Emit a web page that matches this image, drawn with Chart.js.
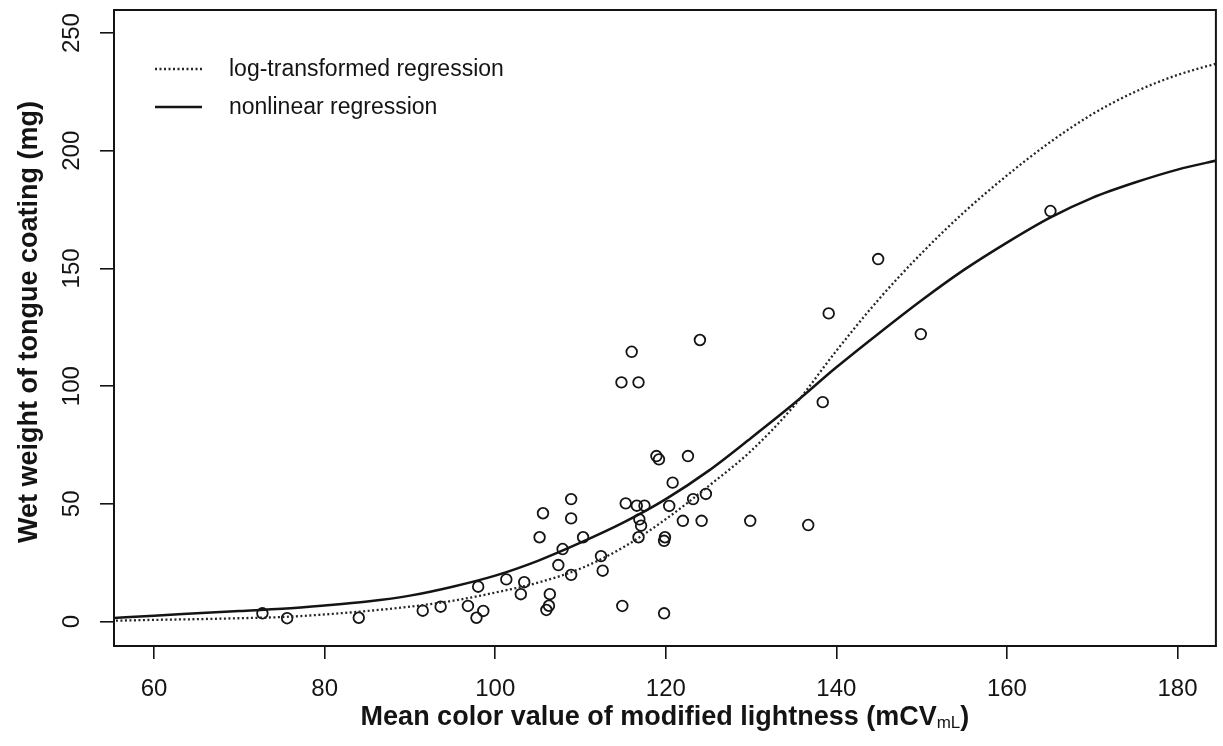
<!DOCTYPE html>
<html>
<head>
<meta charset="utf-8">
<script src="https://cdn.jsdelivr.net/npm/chart.js@4.4.1/dist/chart.umd.min.js"></script>
<style>
  html, body { margin: 0; padding: 0; background: #fff; }
  #wrap { width: 1223px; height: 746px; }
</style>
</head>
<body>
<div id="wrap"><canvas id="chart" width="1223" height="746"></canvas></div>
<script>
// observed samples (mCV_mL, wet weight mg)
const obsX = [72.7, 75.6, 84.0, 91.5, 93.6, 96.8, 97.8, 98.6, 98.0, 101.3,
              103.4, 103.0, 105.2, 105.6, 106.4, 106.3, 106.0, 107.4, 107.9, 108.9,
              108.9, 108.9, 110.3, 112.4, 112.6, 114.8, 116.0, 116.8, 114.9, 115.3,
              116.6, 117.5, 116.9, 117.1, 116.8, 118.9, 119.2, 119.8, 119.9, 119.8,
              120.8, 120.4, 122.0, 122.6, 123.2, 124.2, 124.7, 124.0, 129.9, 136.7,
              138.4, 139.1, 144.9, 149.9, 165.1];
const obsY = [3.5, 1.4, 1.6, 4.6, 6.3, 6.6, 1.6, 4.5, 14.8, 17.9,
              16.7, 11.6, 35.8, 46.0, 11.6, 6.7, 4.9, 24.0, 30.8, 52.0,
              43.8, 19.8, 35.8, 27.8, 21.6, 101.6, 114.6, 101.6, 6.6, 50.2,
              49.2, 49.2, 43.4, 40.7, 35.8, 70.3, 68.9, 34.3, 35.8, 3.5,
              59.0, 49.1, 42.8, 70.3, 52.0, 42.8, 54.2, 119.6, 42.8, 41.0,
              93.2, 130.9, 154.0, 122.1, 174.4];

// fitted curves, every 5 units
const curveX = [55, 60, 65, 70, 75, 80, 85, 90, 95, 100, 105, 110, 115, 120,
                125, 130, 135, 140, 145, 150, 155, 160, 165, 170, 175, 180, 185];
const nonlinearY = [1.4, 2.5, 3.5, 4.5, 5.4, 6.8, 8.5, 11.0, 14.8, 19.5, 25.8, 33.5, 42.0, 52.0,
                    64.0, 78.0, 92.5, 108.0, 122.5, 136.5, 149.5, 161.0, 171.5, 180.0, 186.5, 192.0, 196.2];
const logY = [0.3, 0.7, 1.0, 1.4, 1.9, 3.0, 4.5, 6.3, 8.8, 12.3, 16.5, 22.5, 31.5, 43.5,
              57.5, 72.5, 91.5, 115.0, 137.0, 156.5, 174.0, 189.5, 203.5, 215.5, 225.0, 232.2, 237.5];

const xTicks = [60, 80, 100, 120, 140, 160, 180];
const yTicks = [0, 50, 100, 150, 200, 250];

const FONT = '"Liberation Sans", Arial, Helvetica, sans-serif';
const INK = "#141414";

const toPoints = (xs, ys) => xs.map((x, i) => ({ x: x, y: ys[i] }));

// box, rotated y labels, titles and the legend (R base-graphics look)
const rDecor = {
    id: "rDecor",
    afterDraw(chart) {
        const { ctx, chartArea: a, scales } = chart;
        ctx.save();

        ctx.strokeStyle = INK;
        ctx.lineWidth = 2;
        ctx.strokeRect(a.left, a.top, a.right - a.left, a.bottom - a.top);

        ctx.fillStyle = INK;
        ctx.font = "24px " + FONT;
        ctx.textAlign = "center";
        ctx.textBaseline = "middle";
        scales.y.ticks.forEach(t => {
            const py = scales.y.getPixelForValue(t.value);
            ctx.save();
            ctx.translate(72, py);
            ctx.rotate(-Math.PI / 2);
            ctx.fillText(String(t.value), 0, 0);
            ctx.restore();
        });

        // y title
        ctx.save();
        ctx.font = "bold 27px " + FONT;
        ctx.textBaseline = "alphabetic";
        ctx.translate(37, 322);
        ctx.rotate(-Math.PI / 2);
        ctx.fillText("Wet weight of tongue coating (mg)", 0, 0);
        ctx.restore();

        // x title with subscript
        const main = "Mean color value of modified lightness (mCV";
        const sub = "mL";
        ctx.textAlign = "left";
        ctx.textBaseline = "alphabetic";
        ctx.font = "bold 27px " + FONT;
        const w1 = ctx.measureText(main).width;
        const w3 = ctx.measureText(")").width;
        ctx.font = "17px " + FONT;
        const w2 = ctx.measureText(sub).width;
        let x0 = (a.left + a.right) / 2 - (w1 + w2 + w3) / 2;
        const base = 725;
        ctx.font = "bold 27px " + FONT;
        ctx.fillText(main, x0, base);
        ctx.font = "17px " + FONT;
        ctx.fillText(sub, x0 + w1, base + 3);
        ctx.font = "bold 27px " + FONT;
        ctx.fillText(")", x0 + w1 + w2, base);

        // legend
        const items = [chart.data.datasets[0], chart.data.datasets[1]];
        const rows = [69, 107];
        ctx.font = "23px " + FONT;
        ctx.textBaseline = "middle";
        items.forEach((ds, i) => {
            ctx.save();
            ctx.strokeStyle = ds.borderColor;
            ctx.lineWidth = ds.borderWidth;
            ctx.setLineDash(ds.borderDash || []);
            ctx.beginPath();
            ctx.moveTo(155, rows[i]);
            ctx.lineTo(202, rows[i]);
            ctx.stroke();
            ctx.restore();
            ctx.fillText(ds.label, 229, rows[i] + 1);
        });

        ctx.restore();
    }
};

new Chart(document.getElementById("chart"), {
    type: "scatter",
    data: {
        datasets: [
            {
                label: "log-transformed regression",
                data: toPoints(curveX, logY),
                showLine: true,
                borderColor: "#262626",
                borderWidth: 2.3,
                borderDash: [2, 2.5],
                pointRadius: 0,
                cubicInterpolationMode: "monotone",
                fill: false
            },
            {
                label: "nonlinear regression",
                data: toPoints(curveX, nonlinearY),
                showLine: true,
                borderColor: INK,
                borderWidth: 2.5,
                pointRadius: 0,
                cubicInterpolationMode: "monotone",
                fill: false
            },
            {
                label: "observed",
                data: toPoints(obsX, obsY),
                showLine: false,
                pointRadius: 5.3,
                pointBorderWidth: 1.8,
                pointBackgroundColor: "rgba(0,0,0,0)",
                pointBorderColor: INK
            }
        ]
    },
    options: {
        responsive: false,
        devicePixelRatio: 1,
        animation: false,
        layout: { padding: { top: 10, right: 1, left: 0, bottom: 0 } },
        plugins: {
            legend: { display: false },
            tooltip: { enabled: false }
        },
        scales: {
            x: {
                type: "linear",
                min: 55.3,
                max: 184.5,
                afterBuildTicks: s => { s.ticks = xTicks.map(v => ({ value: v })); },
                afterFit: s => { s.height = 100; },
                grid: {
                    drawOnChartArea: false,
                    drawTicks: true,
                    tickLength: 13,
                    color: INK,
                    lineWidth: 1.6
                },
                border: { display: true, color: INK, width: 2 },
                ticks: {
                    color: INK,
                    padding: 16,
                    maxRotation: 0,
                    font: { family: FONT, size: 24 }
                }
            },
            y: {
                type: "linear",
                min: -10.4,
                max: 259.8,
                afterBuildTicks: s => { s.ticks = yTicks.map(v => ({ value: v })); },
                afterFit: s => { s.width = 114; },
                grid: {
                    drawOnChartArea: false,
                    drawTicks: true,
                    tickLength: 14,
                    color: INK,
                    lineWidth: 1.6
                },
                border: { display: true, color: INK, width: 2 },
                ticks: { display: false }
            }
        }
    },
    plugins: [rDecor]
});
</script>
</body>
</html>
